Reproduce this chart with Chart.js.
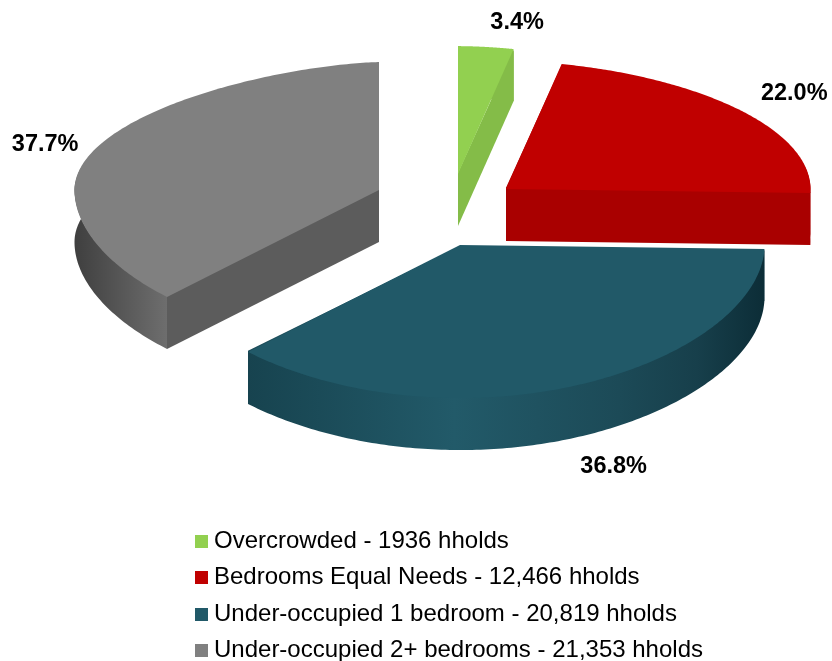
<!DOCTYPE html>
<html>
<head>
<meta charset="utf-8">
<style>html,body{margin:0;padding:0;background:#fff}canvas{display:block}</style>
<script src="https://cdn.jsdelivr.net/npm/chart.js@4"></script>
</head>
<body>
<canvas id="c" width="832" height="661"></canvas>
<script>
const categories = ['Overcrowded', 'Bedrooms Equal Needs', 'Under-occupied 1 bedroom', 'Under-occupied 2+ bedrooms'];
const legendValues = ['1936', '12,466', '20,819', '21,353'];
const households = [1936, 12466, 20819, 21353];
const sliceColors = ['#92D050', '#C00000', '#215968', '#808080'];
const cutColors = ['#84BC48', '#A90000', '#1B4B58', '#5C5C5C'];
const wallStops = [
  [[0, '#84BC48'], [1, '#84BC48']],
  [[0, '#A90000'], [1, '#A90000']],
  [[0, '#17434F'], [0.4, '#225A69'], [0.72, '#1C4A57'], [0.87, '#173F4B'], [1, '#0C2D37']],
  [[0, '#3F3F3F'], [0.305, '#6E6E6E'], [1, '#6E6E6E']]
];
const sliceShift = [[15, -29], [63, -14], [17, 42], [-64, -13]];
const labelNudge = [[33, -24], [54, -17], [39, 81], [-58, 3]];

const view = {xScale: 1.5, frontScale: 0.687, backScale: 0.63, perspective: 0.0888, depth: 52};
const font = '"Liberation Sans", Arial, sans-serif';

function project(arc, shift, angle) {
  const v = Math.sin(angle), u = Math.cos(angle), R = arc.outerRadius;
  let ox, oy;
  if (v >= 0) {
    ox = view.xScale * R * u;
    oy = view.frontScale * R * v / (1 - view.perspective * v);
  } else {
    const power = u >= 0 ? 1.1 : 1.3;
    ox = view.xScale * R * Math.sign(u) * Math.pow(Math.abs(u), power);
    oy = view.backScale * R * v;
  }
  return {x: arc.x + shift[0] + ox, y: arc.y + shift[1] + oy};
}
function samples(arc, shift) {
  const pts = [], n = 160;
  for (let i = 0; i <= n; i++) {
    pts.push(project(arc, shift, arc.startAngle + (arc.endAngle - arc.startAngle) * i / n));
  }
  return pts;
}
function poly(ctx, pts) {
  ctx.beginPath();
  pts.forEach((p, i) => i ? ctx.lineTo(p.x, p.y) : ctx.moveTo(p.x, p.y));
  ctx.closePath();
}

const solidPie = {
  id: 'solidPie',
  afterLayout(chart) {
    const l = chart.legend;
    const w = l.right - l.left, h = l.bottom - l.top;
    l.left = 188.7; l.right = 188.7 + w;
    l.top = 517.2; l.bottom = 517.2 + h;
  },
  beforeDatasetDraw(chart, args) {
    const ctx = chart.ctx, d = view.depth;
    args.meta.data.forEach((arc, i) => {
      const shift = sliceShift[i];
      const apex = {x: arc.x + shift[0], y: arc.y + shift[1]};
      const rim = samples(arc, shift);
      const mid = rim[Math.floor(rim.length / 2)];
      const innerY = (apex.y + mid.y) / 2;
      const low = p => ({x: p.x, y: p.y + d});
      // tuck the upper edges of the side faces just under the top face
      const tuckCut = p => ({x: p.x, y: p.y + Math.sign(innerY - p.y) * 1.2});
      const tuckWall = p => ({x: p.x, y: p.y - Math.max(-1, Math.min(1, (p.y - apex.y) / 10)) * 1.2});
      const xs = rim.map(p => p.x), x0 = Math.min(...xs), x1 = Math.max(...xs);
      const grad = ctx.createLinearGradient(x0, 0, x1, 0);
      wallStops[i].forEach(s => grad.addColorStop(s[0], s[1]));
      ctx.save();
      // cut faces
      ctx.fillStyle = cutColors[i];
      [rim[0], rim[rim.length - 1]].forEach(p => {
        poly(ctx, [tuckCut(apex), tuckCut(p), low(p), low(apex)]);
        ctx.fill();
      });
      // outer wall
      poly(ctx, rim.map(tuckWall).concat(rim.slice().reverse().map(low)));
      ctx.fillStyle = grad; ctx.fill();
      // top face
      poly(ctx, [apex].concat(rim));
      ctx.fillStyle = sliceColors[i]; ctx.fill();
      ctx.restore();
    });
    return false;
  },
  afterDatasetsDraw(chart) {
    const ctx = chart.ctx, meta = chart.getDatasetMeta(0);
    const total = households.reduce((a, b) => a + b, 0);
    ctx.save();
    ctx.fillStyle = '#000';
    ctx.font = 'bold 23.5px ' + font;
    ctx.textAlign = 'center';
    ctx.textBaseline = 'middle';
    meta.data.forEach((arc, i) => {
      const p = project(arc, sliceShift[i], (arc.startAngle + arc.endAngle) / 2);
      ctx.fillText((households[i] / total * 100).toFixed(1) + '%', p.x + labelNudge[i][0], p.y + labelNudge[i][1]);
    });
    ctx.restore();
  }
};

function swatch(color) {
  const s = document.createElement('canvas');
  s.width = 13; s.height = 13;
  const g = s.getContext('2d');
  g.fillStyle = color; g.fillRect(0, 0, 13, 13);
  return s;
}

new Chart(document.getElementById('c'), {
  type: 'pie',
  data: {
    labels: categories,
    datasets: [{data: households, backgroundColor: sliceColors, borderWidth: 0}]
  },
  options: {
    responsive: false,
    animation: false,
    layout: {padding: {left: 54, right: 0, top: 0, bottom: 255}},
    plugins: {
      tooltip: {enabled: false},
      legend: {
        position: 'chartArea',
        align: 'start',
        labels: {
          usePointStyle: true,
          pointStyleWidth: 1,
          padding: 12.3,
          color: '#000',
          font: {family: font, size: 24},
          generateLabels: () => categories.map((c, i) => ({
            text: c + ' - ' + legendValues[i] + ' hholds',
            pointStyle: swatch(sliceColors[i]),
            fillStyle: sliceColors[i],
            strokeStyle: sliceColors[i],
            lineWidth: 0,
            hidden: false,
            index: i
          }))
        }
      }
    }
  },
  plugins: [solidPie]
});
</script>
</body>
</html>
